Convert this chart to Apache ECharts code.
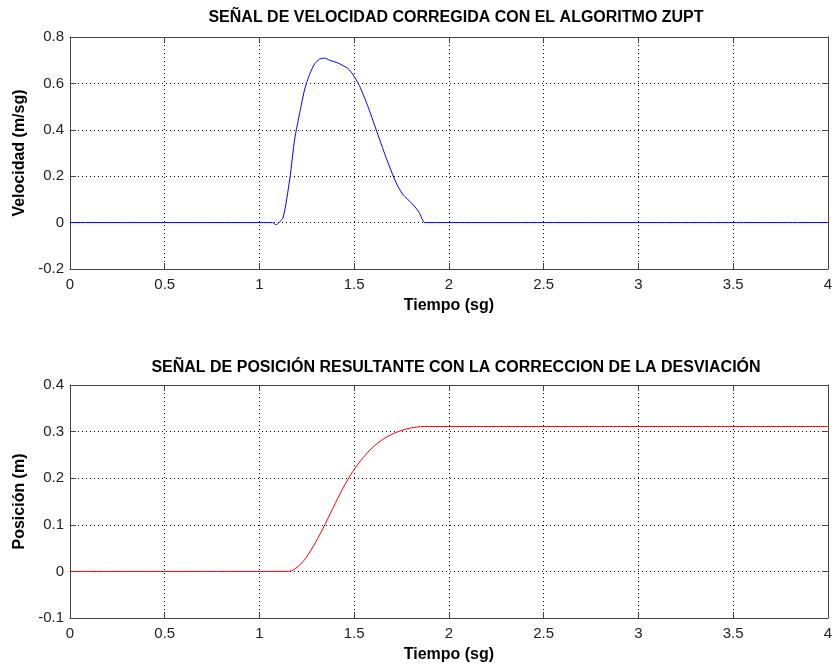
<!DOCTYPE html>
<html>
<head>
<meta charset="utf-8">
<script src="https://cdn.jsdelivr.net/npm/echarts@6/dist/echarts.min.js"></script>
<style>
  html, body { margin: 0; padding: 0; background: #fff; }
  #main { width: 835px; height: 664px; }
</style>
</head>
<body>
<div id="main"></div>
<script>
// velocidad corregida (ZUPT)
var tVel = [0, 1.069, 1.087, 1.125, 1.160, 1.186, 1.213, 1.239, 1.265, 1.291, 1.318, 1.344, 1.370,
  1.414, 1.466, 1.492, 1.528, 1.571, 1.615, 1.668, 1.720, 1.755, 1.808, 1.843, 1.874, 4];
var vel = [0, 0, -0.009, 0.023, 0.188, 0.36, 0.475, 0.576, 0.64, 0.684, 0.705, 0.709, 0.70,
  0.688, 0.665, 0.64, 0.59, 0.504, 0.403, 0.281, 0.174, 0.123, 0.08, 0.044, 0, 0];

// posicion resultante
var tPos = [0, 1.143, 1.178, 1.230, 1.283, 1.335, 1.387, 1.440, 1.492, 1.545, 1.597, 1.650,
  1.720, 1.790, 1.869, 4];
var pos = [0, 0, 0.003, 0.021, 0.053, 0.092, 0.135, 0.178, 0.214, 0.243, 0.266, 0.283,
  0.298, 0.307, 0.311, 0.311];

function pairs(xs, ys) {
  return xs.map(function (x, i) { return [x, ys[i]]; });
}

var axisCol = '#444';
var dotted = { show: true, lineStyle: { color: '#000', type: [1, 3], width: 1 } };
var font = 'Liberation Sans, Arial, sans-serif';
var bold = { fontFamily: font, fontWeight: 'bold', fontSize: 16, color: '#000' };

function fmt(v) { return String(+v.toFixed(2)); }

function xAx(gi, showLabels) {
  return {
    type: 'value', gridIndex: gi, min: 0, max: 4, interval: 0.5,
    position: showLabels ? 'bottom' : 'top',
    name: showLabels ? 'Tiempo (sg)' : '',
    nameLocation: 'middle', nameGap: 29,
    nameTextStyle: bold,
    axisLine: { show: true, onZero: false, lineStyle: { color: axisCol, width: 1 } },
    axisTick: { show: true, inside: true, length: 6, lineStyle: { color: axisCol } },
    axisLabel: { show: showLabels, fontFamily: font, fontSize: 15, color: '#222', margin: 8, formatter: fmt },
    splitLine: showLabels ? dotted : { show: false }
  };
}

function yAx(gi, showLabels, mn, mx, step, name) {
  return {
    type: 'value', gridIndex: gi, min: mn, max: mx, interval: step,
    position: showLabels ? 'left' : 'right',
    name: showLabels ? name : '',
    nameLocation: 'middle', nameGap: 41, nameRotate: 90,
    nameTextStyle: bold,
    axisLine: { show: true, onZero: false, lineStyle: { color: axisCol, width: 1 } },
    axisTick: { show: true, inside: true, length: 6, lineStyle: { color: axisCol } },
    axisLabel: { show: showLabels, fontFamily: font, fontSize: 15, color: '#222', margin: 6, formatter: fmt },
    splitLine: showLabels ? dotted : { show: false }
  };
}

var chart = echarts.init(document.getElementById('main'));
chart.setOption({
  backgroundColor: '#fff',
  animation: false,
  title: [
    { text: 'SEÑAL DE VELOCIDAD CORREGIDA CON EL ALGORITMO ZUPT', left: 451, top: 5, textAlign: 'center',
      textStyle: bold },
    { text: 'SEÑAL DE POSICIÓN RESULTANTE CON LA CORRECCION DE LA DESVIACIÓN', left: 451, top: 355, textAlign: 'center',
      textStyle: bold }
  ],
  grid: [
    { left: 70, right: 3.5, top: 37, height: 232 },
    { left: 70, right: 3.5, top: 385, height: 234 }
  ],
  xAxis: [xAx(0, true), xAx(0, false), xAx(1, true), xAx(1, false)],
  yAxis: [
    yAx(0, true, -0.2, 0.8, 0.2, 'Velocidad (m/sg)'),
    yAx(0, false, -0.2, 0.8, 0.2, ''),
    yAx(1, true, -0.1, 0.4, 0.1, 'Posición (m)'),
    yAx(1, false, -0.1, 0.4, 0.1, '')
  ],
  series: [
    { type: 'line', xAxisIndex: 0, yAxisIndex: 0, data: pairs(tVel, vel), showSymbol: false,
      lineStyle: { color: '#0000ff', width: 1 }, itemStyle: { color: '#0000ff' }, smooth: 0.2 },
    { type: 'line', xAxisIndex: 2, yAxisIndex: 2, data: pairs(tPos, pos), showSymbol: false,
      lineStyle: { color: '#ff0000', width: 1 }, itemStyle: { color: '#ff0000' }, smooth: 0.3 }
  ]
});
</script>
</body>
</html>
